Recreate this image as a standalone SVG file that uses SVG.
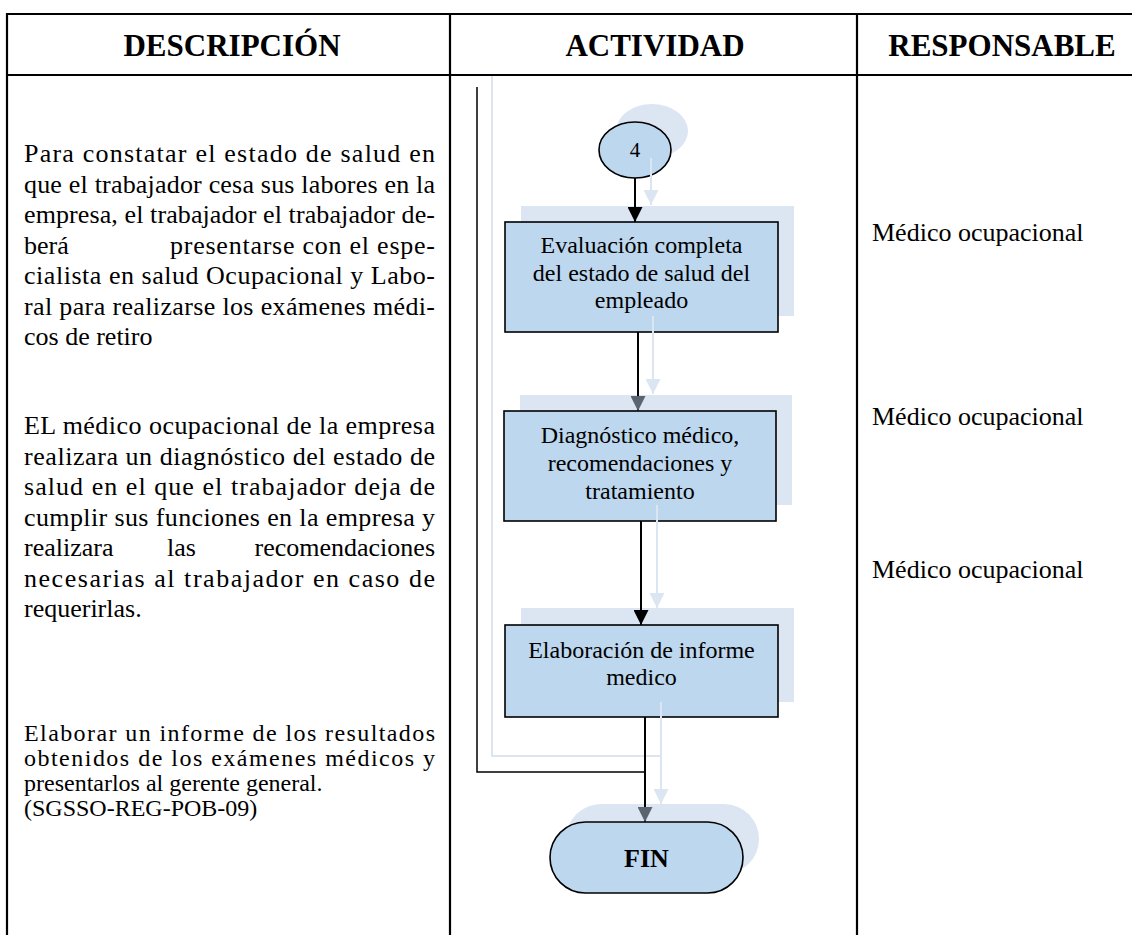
<svg xmlns="http://www.w3.org/2000/svg" width="1132" height="935" viewBox="0 0 1132 935">
<style>
.t{font-family:"Liberation Serif","Times New Roman",serif;font-size:26px;fill:#000}
.s{font-family:"Liberation Serif","Times New Roman",serif;font-size:24px;fill:#000}
.h{font-family:"Liberation Serif","Times New Roman",serif;font-size:31px;font-weight:bold;fill:#000;text-anchor:middle}
.b{font-family:"Liberation Serif","Times New Roman",serif;font-size:24px;fill:#000;text-anchor:middle}
.grid{stroke:#000;stroke-width:2.2;fill:none}
.shape{fill:#bdd7ee;stroke:#000;stroke-width:1.6}
.shadow{fill:#dce6f2;stroke:none}
.lc{stroke:#dce6f2;stroke-width:2;fill:none}
.bc{stroke:#000;stroke-width:2;fill:none}
.bl{stroke:#000;stroke-width:1.5;fill:none}
</style>
<defs>
<marker id="ab" viewBox="0 0 16 16" refX="16" refY="8" markerWidth="16" markerHeight="15" markerUnits="userSpaceOnUse" orient="auto"><path d="M0,0 L16,8 L0,16 z" fill="#000"/></marker>
<marker id="ag" viewBox="0 0 16 16" refX="16" refY="8" markerWidth="16" markerHeight="15" markerUnits="userSpaceOnUse" orient="auto"><path d="M0,0 L16,8 L0,16 z" fill="#5a6570"/></marker>
<marker id="al" viewBox="0 0 16 16" refX="16" refY="8" markerWidth="15" markerHeight="15" markerUnits="userSpaceOnUse" orient="auto"><path d="M0,0 L16,8 L0,16 z" fill="#dce6f2"/></marker>
</defs>
<rect width="1132" height="935" fill="#fff"/>
<g id="table">
<line class="grid" x1="7" y1="14" x2="1132" y2="14"/>
<line class="grid" x1="7" y1="75" x2="1132" y2="75"/>
<line class="grid" x1="7" y1="13" x2="7" y2="935"/>
<line class="grid" x1="450" y1="13" x2="450" y2="935"/>
<line class="grid" x1="857" y1="13" x2="857" y2="935"/>
<text class="h" x="232" y="56">DESCRIPCIÓN</text>
<text class="h" x="655" y="56">ACTIVIDAD</text>
<text class="h" x="1002" y="56">RESPONSABLE</text>
</g>
<g id="descripcion">
<text class="t" x="24" y="162" textLength="411" lengthAdjust="spacing">Para constatar el estado de salud  en</text>
<text class="t" x="24" y="192.5" textLength="411" lengthAdjust="spacing">que el trabajador cesa sus labores en la</text>
<text class="t" x="24" y="223" textLength="411" lengthAdjust="spacing">empresa, el trabajador el trabajador de-</text>
<text class="t" x="24" y="253.5">berá</text>
<text class="t" x="170" y="253.5" textLength="265" lengthAdjust="spacing">presentarse  con el espe-</text>
<text class="t" x="24" y="284" textLength="411" lengthAdjust="spacing">cialista en salud Ocupacional y Labo-</text>
<text class="t" x="24" y="314.5" textLength="411" lengthAdjust="spacing">ral para realizarse los exámenes médi-</text>
<text class="t" x="24" y="345">cos de retiro</text>
<text class="t" x="24" y="434" textLength="411" lengthAdjust="spacing">EL médico ocupacional de la empresa</text>
<text class="t" x="24" y="464.5" textLength="411" lengthAdjust="spacing">realizara un diagnóstico del estado de</text>
<text class="t" x="24" y="495" textLength="411" lengthAdjust="spacing">salud en el que el trabajador deja de</text>
<text class="t" x="24" y="525.5" textLength="411" lengthAdjust="spacing">cumplir sus funciones en la empresa y</text>
<text class="t" x="24" y="556">realizara</text>
<text class="t" x="167" y="556">las</text>
<text class="t" x="435" y="556" text-anchor="end">recomendaciones</text>
<text class="t" x="24" y="586.5" textLength="411" lengthAdjust="spacing">necesarias al trabajador en caso de</text>
<text class="t" x="24" y="617">requerirlas.</text>
<text class="s" x="24" y="741" textLength="411" lengthAdjust="spacing">Elaborar un informe de los resultados</text>
<text class="s" x="24" y="766" textLength="411" lengthAdjust="spacing">obtenidos de los exámenes médicos y</text>
<text class="s" x="24" y="791">presentarlos al gerente general.</text>
<text class="s" x="24" y="816">(SGSSO-REG-POB-09)</text>
</g>
<g id="responsable">
<text class="t" x="872" y="241">Médico ocupacional</text>
<text class="t" x="872" y="425">Médico ocupacional</text>
<text class="t" x="872" y="578">Médico ocupacional</text>
</g>
<g id="n4">
<ellipse class="shadow" cx="652" cy="131" rx="36" ry="27"/>
<ellipse class="shape" cx="635" cy="150" rx="36" ry="28"/>
<text class="b" x="635" y="157" style="font-size:21px">4</text>
</g>
<g id="n1">
<rect class="shadow" x="521" y="206" width="273" height="110"/>
<rect class="shape" x="505" y="222" width="273" height="110"/>
<text class="b" x="641.5" y="253">Evaluación completa</text>
<text class="b" x="641.5" y="281">del estado de salud del</text>
<text class="b" x="641.5" y="308">empleado</text>
</g>
<g id="n2">
<rect class="shadow" x="520" y="395" width="272" height="110"/>
<rect class="shape" x="504" y="411" width="272" height="110"/>
<text class="b" x="640" y="443">Diagnóstico médico,</text>
<text class="b" x="640" y="471">recomendaciones y</text>
<text class="b" x="640" y="499">tratamiento</text>
</g>
<g id="n3">
<rect class="shadow" x="521" y="608" width="273" height="94"/>
<rect class="shape" x="505" y="625" width="273" height="92"/>
<text class="b" x="641.5" y="658">Elaboración de informe</text>
<text class="b" x="641.5" y="685">medico</text>
</g>
<g id="fin">
<rect class="shadow" x="566" y="804" width="193" height="70" rx="35"/>
<rect class="shape" x="550" y="822" width="193" height="71" rx="35.5"/>
<text class="b" x="646.5" y="867" style="font-size:26px;font-weight:bold">FIN</text>
</g>
<g id="connectors">
<path class="lc" d="M492,76 L492,756 L661,756"/>
<line class="lc" x1="651" y1="158" x2="651" y2="205" marker-end="url(#al)"/>
<line class="lc" x1="653" y1="316" x2="653" y2="394" marker-end="url(#al)"/>
<line class="lc" x1="657" y1="505" x2="657" y2="608" marker-end="url(#al)"/>
<line class="lc" x1="661" y1="702" x2="661" y2="804" marker-end="url(#al)"/>
<path class="bl" d="M477,87 L477,772 L645,772"/>
<line class="bc" x1="635" y1="178" x2="635" y2="222" marker-end="url(#ab)"/>
<line class="bc" x1="638" y1="332" x2="638" y2="411" marker-end="url(#ag)"/>
<line class="bc" x1="641" y1="521" x2="641" y2="625" marker-end="url(#ab)"/>
<line class="bc" x1="645" y1="717" x2="645" y2="822" marker-end="url(#ag)"/>
</g>
</svg>
